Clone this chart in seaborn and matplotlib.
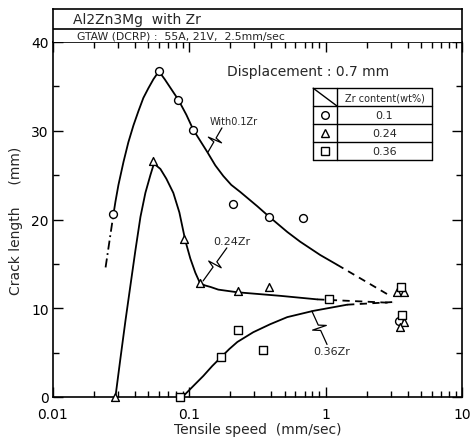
import numpy as np
import pandas as pd
import matplotlib
matplotlib.use("Agg")
import matplotlib.pyplot as plt
import seaborn as sns
from matplotlib.ticker import FixedLocator, NullFormatter, FixedFormatter
from matplotlib.lines import Line2D

# ---------------- data ----------------
zr_labels = ["0.1", "0.24", "0.36"]

speed_01 = [0.0277, 0.0598, 0.0830, 0.107, 0.21, 0.386, 0.684, 3.47]
crack_01 = [20.6, 36.7, 33.5, 30.1, 21.7, 20.3, 20.2, 8.6]

speed_024 = [0.0287, 0.0545, 0.0919, 0.120, 0.229, 0.385, 3.32, 3.76, 3.76, 3.51]
crack_024 = [0.0, 26.6, 17.8, 12.8, 11.9, 12.4, 11.8, 11.8, 8.45, 7.9]

speed_036 = [0.0859, 0.172, 0.229, 0.348, 1.06, 3.56, 3.62]
crack_036 = [0.0, 4.5, 7.55, 5.3, 11.0, 12.4, 9.2]

# hand-drawn trend curves
curve01_x = [0.0277, 0.0287, 0.0302, 0.0329, 0.0357, 0.0389, 0.0423, 0.046, 0.0501,
             0.0545, 0.0598, 0.066, 0.0830, 0.0951, 0.107, 0.1355, 0.155, 0.1775,
             0.203, 0.2365, 0.3148, 0.3795, 0.5225, 0.650, 0.912, 1.214]
curve01_y = [20.5, 22.0, 23.9, 26.5, 28.7, 30.6, 32.2, 33.7, 34.8,
             35.8, 36.7, 35.8, 33.5, 31.8, 30.1, 27.6, 26.1, 24.9,
             23.9, 23.1, 21.5, 20.4, 18.6, 17.5, 16.0, 14.9]
curve01_dash_x = [1.214, 2.97]
curve01_dash_y = [14.9, 11.4]
curve01_lead_x = [0.0243, 0.0277]
curve01_lead_y = [14.6, 20.5]

curve024_x = [0.0287, 0.0312, 0.0340, 0.0370, 0.0402, 0.0438, 0.0476, 0.0518, 0.0550,
              0.0613, 0.0678, 0.0763, 0.0845, 0.0935, 0.1017, 0.1107, 0.120, 0.131,
              0.143, 0.163, 0.225, 0.464, 0.867]
curve024_y = [0.0, 4.3, 8.6, 12.6, 16.5, 20.3, 23.0, 25.0, 26.3,
              25.7, 24.6, 23.0, 20.8, 17.6, 15.6, 14.0, 12.8, 12.56,
              12.4, 12.1, 11.8, 11.4, 11.0]
curve024_dash_x = [0.867, 3.12]
curve024_dash_y = [11.0, 10.6]

curve036_x = [0.0890, 0.1087, 0.1266, 0.1474, 0.1713, 0.1963, 0.225, 0.2944, 0.3917,
              0.5225, 0.809, 1.437]
curve036_y = [0.0, 1.35, 2.37, 3.5, 4.5, 5.4, 6.2, 7.3, 8.2,
              9.0, 9.7, 10.4]
curve036_dash_x = [1.437, 3.12]
curve036_dash_y = [10.4, 10.7]

x_ticks = [0.01, 0.1, 1, 10]
x_tick_labels = ["0.01", "0.1", "1", "10"]
y_ticks = [0, 10, 20, 30, 40]

# ---------------- style ----------------
sns.set_style("ticks")
plt.rcParams["font.family"] = ["DejaVu Sans"]

W, H = 470, 439
fig = plt.figure(figsize=(W / 100, H / 100), dpi=100)
L, R, B, T = 53, 462, 398, 43
ax = fig.add_axes([L / W, (H - B) / H, (R - L) / W, (B - T) / H])
hdr = fig.add_axes([L / W, (H - T) / H, (R - L) / W, (T - 10) / H])

# ---------------- curves ----------------
lw = 1.3
dash = (0, (4, 3))
sns.lineplot(x=curve01_x, y=curve01_y, sort=False, estimator=None, color="black", lw=lw, ax=ax)
sns.lineplot(x=curve01_dash_x, y=curve01_dash_y, sort=False, estimator=None, color="black", lw=lw,
             ax=ax, linestyle=dash)
sns.lineplot(x=curve01_lead_x, y=curve01_lead_y, sort=False, estimator=None, color="black", lw=lw,
             ax=ax, linestyle=(0, (5, 2, 1, 2)))
sns.lineplot(x=curve024_x, y=curve024_y, sort=False, estimator=None, color="black", lw=lw, ax=ax)
sns.lineplot(x=curve024_dash_x, y=curve024_dash_y, sort=False, estimator=None, color="black", lw=lw,
             ax=ax, linestyle=dash)
sns.lineplot(x=curve036_x, y=curve036_y, sort=False, estimator=None, color="black", lw=lw, ax=ax)
sns.lineplot(x=curve036_dash_x, y=curve036_dash_y, sort=False, estimator=None, color="black", lw=lw,
             ax=ax, linestyle=dash)
for ln in ax.lines:
    ln.set_solid_joinstyle("round")
    ln.set_solid_capstyle("round")

# ---------------- markers ----------------
mk = {"0.1": "o", "0.24": "^", "0.36": "s"}
for sx, cy, lab in [(speed_01, crack_01, "0.1"), (speed_024, crack_024, "0.24"),
                    (speed_036, crack_036, "0.36")]:
    sns.scatterplot(x=sx, y=cy, marker=mk[lab], s=32, facecolor="white", edgecolor="black",
                    linewidth=1.0, ax=ax, clip_on=False, zorder=4)

# ---------------- axes ----------------
ax.set_xscale("log")
ax.set_xlim(0.01, 10)
ax.set_ylim(0, 40)
ax.xaxis.set_major_locator(FixedLocator(x_ticks))
ax.xaxis.set_major_formatter(FixedFormatter(x_tick_labels))
minor = [m * 10.0 ** e for e in (-2, -1, 0) for m in range(2, 10)]
ax.xaxis.set_minor_locator(FixedLocator(minor))
ax.xaxis.set_minor_formatter(NullFormatter())
ax.yaxis.set_major_locator(FixedLocator(y_ticks))
ax.yaxis.set_minor_locator(FixedLocator([5, 15, 25, 35]))
ax.tick_params(which="both", direction="in", top=True, right=True, width=1.0, colors="black",
               labelsize=10)
ax.tick_params(which="major", length=7)
ax.tick_params(which="minor", length=4)
ax.tick_params(axis="x", which="major", pad=7)
ax.tick_params(axis="y", which="major", pad=3)
for s in ax.spines.values():
    s.set_linewidth(1.2)
    s.set_color("black")
ax.set_xlabel("Tensile speed  (mm/sec)", fontsize=10, labelpad=1)
ax.set_ylabel("Crack length     (mm)", fontsize=10, labelpad=6)

# ---------------- header box ----------------
hdr.set_xlim(0, 1)
hdr.set_ylim(0, 1)
hdr.set_xticks([])
hdr.set_yticks([])
for s in hdr.spines.values():
    s.set_linewidth(1.2)
    s.set_color("black")
hdr.spines["bottom"].set_visible(False)
hdr.axhline(0.394, color="black", lw=1.2)
hdr.text(0.049, 0.70, "Al2Zn3Mg  with Zr", fontsize=10, va="center", ha="left")
hdr.text(0.059, 0.19, "GTAW (DCRP) :  55A, 21V,  2.5mm/sec", fontsize=7.8, va="center", ha="left")

# ---------------- annotations ----------------
ax.text(0.623, 0.918, "Displacement : 0.7 mm", transform=ax.transAxes, fontsize=10,
        ha="center", va="center")

def leader(p0, p1):
    p0 = np.array(p0); p1 = np.array(p1)
    d = p1 - p0
    n = np.array([-d[1], d[0]]) / np.hypot(*d) * 0.018
    pts = [p0, p0 + 0.42 * d, p0 + 0.50 * d + n, p0 + 0.50 * d - n, p0 + 0.58 * d, p1]
    pts = np.array(pts)
    ax.plot(pts[:, 0], pts[:, 1], color="black", lw=0.9, transform=ax.transAxes, clip_on=False)

ax.text(0.443, 0.777, "With0.1Zr", transform=ax.transAxes, fontsize=7, ha="center", va="center")
leader((0.413, 0.758), (0.379, 0.690))
ax.text(0.438, 0.439, "0.24Zr", transform=ax.transAxes, fontsize=8, ha="center", va="center")
leader((0.425, 0.420), (0.367, 0.327))
ax.text(0.682, 0.130, "0.36Zr", transform=ax.transAxes, fontsize=8, ha="center", va="center")
leader((0.670, 0.148), (0.633, 0.242))

# ---------------- legend table ----------------
tx0, tx1, tcol = 0.636, 0.927, 0.694
rows = [0.870, 0.820, 0.769, 0.718, 0.668]
tk = dict(color="black", lw=1.0, transform=ax.transAxes, clip_on=False)
for yv in rows:
    ax.add_line(Line2D([tx0, tx1], [yv, yv], **tk))
for xv in (tx0, tcol, tx1):
    ax.add_line(Line2D([xv, xv], [rows[0], rows[-1]], **tk))
ax.add_line(Line2D([tx0, tcol], [rows[0], rows[1]], **tk))
ax.text((tcol + tx1) / 2, (rows[0] + rows[1]) / 2, "Zr content(wt%)", transform=ax.transAxes,
        fontsize=7, ha="center", va="center")
for i, lab in enumerate(zr_labels):
    yc = (rows[i + 1] + rows[i + 2]) / 2
    ax.text((tcol + tx1) / 2, yc, lab, transform=ax.transAxes, fontsize=8, ha="center", va="center")
    ax.plot([(tx0 + tcol) / 2], [yc], marker=mk[lab], ms=5.5, mfc="white", mec="black",
            mew=1.0, transform=ax.transAxes, clip_on=False)

fig.savefig("out.png", dpi=100)
